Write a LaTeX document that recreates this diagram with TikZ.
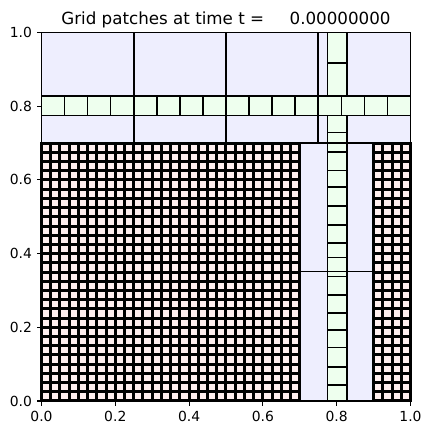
\documentclass[tikz,border=0pt]{standalone}
\usepackage{fontspec}
\setmainfont{DejaVu Sans}
\definecolor{lav}{RGB}{238,238,254}
\definecolor{grn}{RGB}{238,255,238}
\definecolor{pnk}{RGB}{255,238,238}
\tikzset{
  edge/.style={draw=black, line width=1.6pt},
  tickmark/.style={draw=black, line width=1.1pt},
  ticklab/.style={inner sep=0pt, font=\fontsize{13.9}{16}\selectfont},
}
\begin{document}
\begin{tikzpicture}[x=1pt,y=1pt]
\useasboundingbox (0,0) rectangle (432,435);
\node[anchor=base, inner sep=0pt, font=\fontsize{16.7}{20}\selectfont] (title) at (226,410) {Grid patches at time t =\hspace{25.5pt}0.00000000};
\begin{scope}[shift={(41.5,34)}, x=369pt, y=368.5pt]
  % level 1 (lavender)
  \foreach \a/\b/\c/\d in {0/0.7/0.25/1, 0.25/0.7/0.5/1, 0.5/0.7/0.75/1, 0.75/0.7/1/1, 0.7/0/0.9/0.3514, 0.7/0.3514/0.9/0.7}
    \path[fill=lav] (\a,\b) rectangle (\c,\d);
  \foreach \a/\b/\c/\d in {0/0.7/0.25/1, 0.25/0.7/0.5/1, 0.5/0.7/0.75/1, 0.75/0.7/1/1, 0.7/0/0.9/0.3514, 0.7/0.3514/0.9/0.7}
    \path[edge] (\a,\b) rectangle (\c,\d);
  % level 2 (green)
  \path[fill=grn] (0,0.775) rectangle (1,0.828);
  \path[fill=grn] (0.775,0) rectangle (0.828,1);
  \foreach \i in {0,...,15}
    \path[edge] ({\i*0.0625},0.775) rectangle ({(\i+1)*0.0625},0.828);
  \foreach \a/\b in {0/0.043, 0.043/0.093, 0.093/0.145, 0.145/0.193, 0.193/0.238, 0.238/0.288, 0.288/0.338, 0.338/0.3514, 0.3514/0.389, 0.389/0.428, 0.428/0.478, 0.478/0.529, 0.529/0.5815, 0.5815/0.626, 0.626/0.676, 0.676/0.7, 0.7/0.729, 0.729/0.775, 0.828/0.917, 0.917/1}
    \path[edge] (0.775,\a) rectangle (0.828,\b);
  % level 3 (pink): black ground with pink cells
  \path[fill=black] ([shift={(-1.5pt,-1.5pt)}]0,0) rectangle ([shift={(1.5pt,1.5pt)}]0.7,0.7);
  \path[fill=black] ([shift={(-1.5pt,-1.5pt)}]0.9,0) rectangle ([shift={(1.5pt,1.5pt)}]1,0.7);
  \foreach \j in {0,...,27} {
    \pgfmathsetmacro\ya{\j*0.025}
    \pgfmathsetmacro\yb{(\j+1)*0.025}
    \foreach \i in {0,...,27} {
      \pgfmathsetmacro\xa{\i*0.025}
      \pgfmathsetmacro\xb{(\i+1)*0.025}
      \path[fill=pnk] ([shift={(1.5pt,1.5pt)}]\xa,\ya) rectangle ([shift={(-1.5pt,-1.5pt)}]\xb,\yb);
    }
    \foreach \i in {0,...,3} {
      \pgfmathsetmacro\xa{0.9+\i*0.025}
      \pgfmathsetmacro\xb{0.9+(\i+1)*0.025}
      \path[fill=pnk] ([shift={(1.5pt,1.5pt)}]\xa,\ya) rectangle ([shift={(-1.5pt,-1.5pt)}]\xb,\yb);
    }
  }
  % axes
  \path[tickmark] (0,0) rectangle (1,1);
  \foreach \v/\l [count=\k] in {0/0.0, 0.2/0.2, 0.4/0.4, 0.6/0.6, 0.8/0.8, 1/1.0} {
    \path[tickmark] (\v,0) -- ++(0,-4.9pt);
    \path[tickmark] (0,\v) -- ++(-4.9pt,0);
    \node[ticklab, anchor=north] (xl\k) at ([yshift=-9.7pt]\v,0) {\l};
    \node[ticklab, anchor=east] (yl\k) at ([xshift=-9.3pt]0,\v) {\l};
  }
\end{scope}
\end{tikzpicture}
\end{document}
